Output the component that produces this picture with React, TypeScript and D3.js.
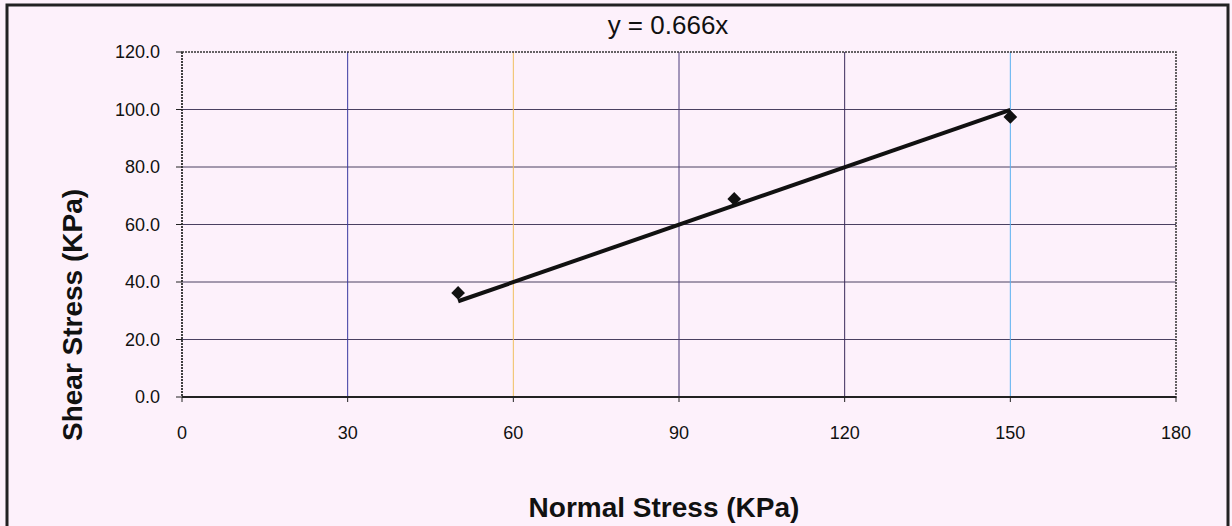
import * as d3 from "d3"

// measured points (normal stress, shear stress) in KPa
const normalStress = [50, 100, 150]
const shearStress = [36.2, 68.9, 97.4]
const slope = 0.666
const xTicks = [0, 30, 60, 90, 120, 150, 180]
const yTicks = [0, 20, 40, 60, 80, 100, 120]

// scanned gridline tints, one per vertical line
const vColors = ["#2b2b9a", "#3a3aa0", "#f0c060", "#4a3a7a", "#3a2a5a", "#5ab0f0", "#555"]

const W = 1232
const H = 526
const m = { left: 182, right: 1176, top: 52, bottom: 397 }

export default function App() {
  const x = d3.scaleLinear([0, 180], [m.left, m.right])
  const y = d3.scaleLinear([0, 120], [m.bottom, m.top])

  const pts = normalStress.map((d, i) => ({ x: d, y: shearStress[i] }))
  const fitX = d3.extent(normalStress) as [number, number]
  const line = d3
    .line<number>()
    .x((d) => x(d))
    .y((d) => y(d * slope))

  const diamond = d3.symbol(d3.symbolDiamond2, 120)()

  return (
    <svg
      width={W}
      height={H}
      style={{ position: "absolute", left: 0, top: 0, background: "#fdf1fb" }}
      fontFamily="Arial, 'Liberation Sans', sans-serif"
    >
      <rect x={7} y={5} width={1221} height={530} fill="#fdf1fb" stroke="#222" strokeWidth={3} />

      {/* grid */}
      {yTicks.slice(1, -1).map((t) => (
        <line key={t} x1={m.left} x2={m.right} y1={y(t)} y2={y(t)} stroke="#4a4060" strokeWidth={1} />
      ))}
      {xTicks.slice(1, -1).map((t, i) => (
        <line key={t} x1={x(t)} x2={x(t)} y1={m.top} y2={m.bottom} stroke={vColors[i + 1]} strokeWidth={1} />
      ))}

      {/* plot frame */}
      <rect
        x={m.left}
        y={m.top}
        width={m.right - m.left}
        height={m.bottom - m.top}
        fill="none"
        stroke="#333"
        strokeWidth={1.5}
        strokeDasharray="2 1"
      />
      <line x1={m.left} x2={m.right} y1={m.bottom} y2={m.bottom} stroke="#222" strokeWidth={2} />
      <line x1={m.left} x2={m.left} y1={m.top} y2={m.bottom} stroke="#333" strokeWidth={1.5} strokeDasharray="2 1" />

      {/* ticks */}
      {xTicks.map((t) => (
        <g key={t}>
          <line x1={x(t)} x2={x(t)} y1={m.bottom} y2={m.bottom + 5} stroke="#222" />
          <text x={x(t)} y={m.bottom + 42} textAnchor="middle" fontSize={18} fill="#111">
            {t}
          </text>
        </g>
      ))}
      {yTicks.map((t) => (
        <g key={t}>
          <line x1={m.left - 6} x2={m.left} y1={y(t)} y2={y(t)} stroke="#222" />
          <text x={m.left - 22} y={y(t)} dy="0.35em" textAnchor="end" fontSize={18} fill="#111">
            {t.toFixed(1)}
          </text>
        </g>
      ))}

      {/* trendline */}
      <path d={line(fitX) ?? ""} fill="none" stroke="#111" strokeWidth={4} />

      {/* points */}
      {pts.map((p) => (
        <path key={p.x} d={diamond ?? ""} transform={`translate(${x(p.x)},${y(p.y)})`} fill="#111" />
      ))}

      <text x={668} y={34} textAnchor="middle" fontSize={26} fill="#111">
        y = 0.666x
      </text>
      <text x={664} y={517} textAnchor="middle" fontSize={28} fontWeight="bold" fill="#111">
        Normal Stress (KPa)
      </text>
      <text
        transform={`translate(82,315) rotate(-90)`}
        textAnchor="middle"
        fontSize={28}
        fontWeight="bold"
        fill="#111"
      >
        Shear Stress (KPa)
      </text>
    </svg>
  )
}
